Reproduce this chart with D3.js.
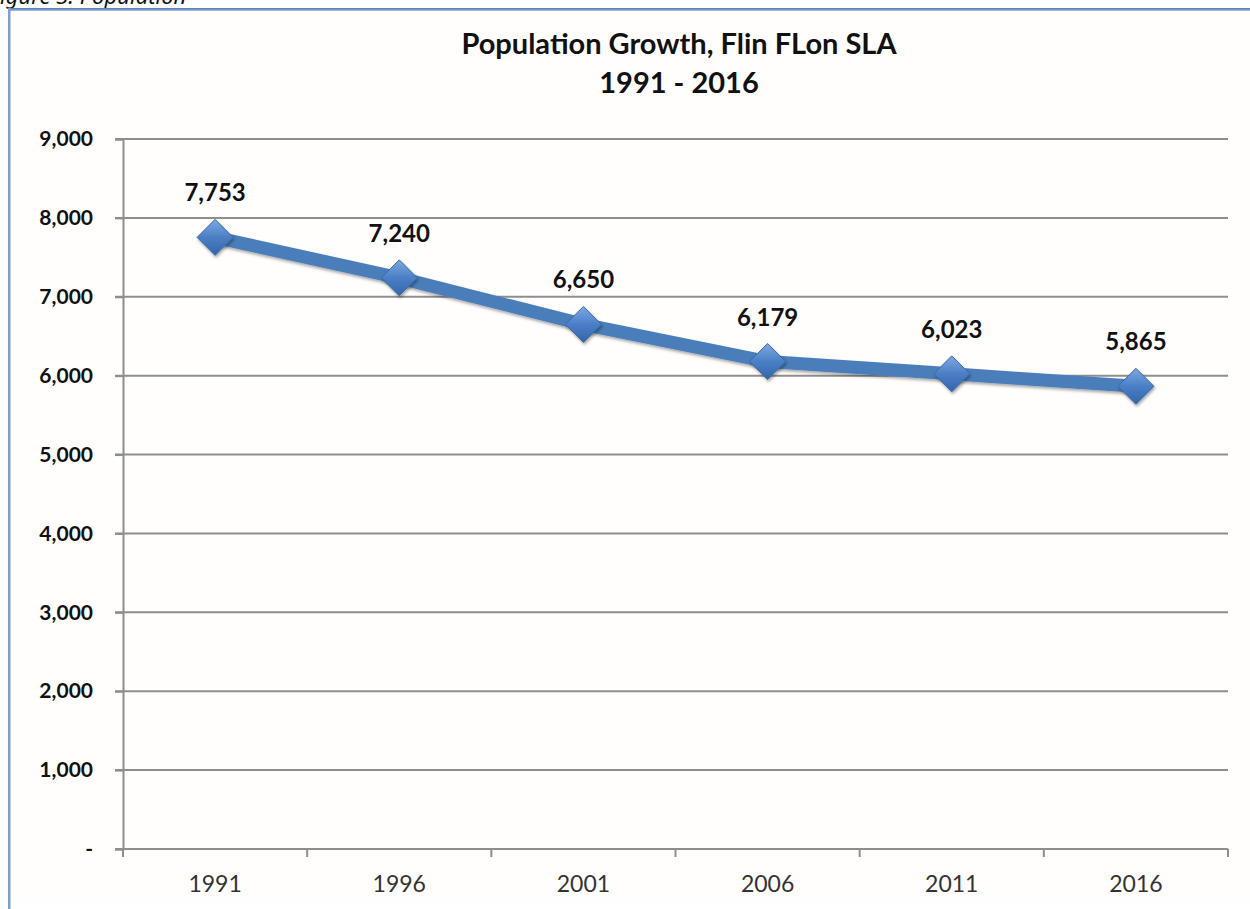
<!DOCTYPE html>
<html>
<head>
<meta charset="utf-8">
<script src="https://cdn.jsdelivr.net/npm/d3@7/dist/d3.min.js"></script>
<style>
  html, body { margin: 0; padding: 0; background: #ffffff; }
  svg { display: block; }
</style>
</head>
<body>
<svg id="chart" width="1250" height="909"></svg>
<script>
// Population of Flin Flon SLA, census years
const years = ["1991", "1996", "2001", "2006", "2011", "2016"];
const population = [7753, 7240, 6650, 6179, 6023, 5865];
const yTicks = [0, 1000, 2000, 3000, 4000, 5000, 6000, 7000, 8000, 9000];
const titleLines = ["Population Growth, Flin FLon SLA", "1991 - 2016"];

const FONT = "Lato, 'Open Sans', sans-serif";
const svg = d3.select("#chart");
const W = 1250, H = 909;
const m = { left: 123, right: 1228, top: 139, bottom: 849 };

const defs = svg.append("defs");
const frameGrad = defs.append("linearGradient").attr("id", "frameGrad")
  .attr("x1", 0).attr("y1", 0).attr("x2", 0).attr("y2", 1);
frameGrad.append("stop").attr("offset", "0%").attr("stop-color", "#4a74b0");
frameGrad.append("stop").attr("offset", "100%").attr("stop-color", "#a9c3e6");

const diaGrad = defs.append("linearGradient").attr("id", "diaGrad")
  .attr("x1", 0).attr("y1", 0).attr("x2", 0).attr("y2", 1);
diaGrad.append("stop").attr("offset", "0%").attr("stop-color", "#7fa9e0");
diaGrad.append("stop").attr("offset", "50%").attr("stop-color", "#4a7fc6");
diaGrad.append("stop").attr("offset", "100%").attr("stop-color", "#3465a8");

const shadow = defs.append("filter").attr("id", "shadow")
  .attr("x", "-20%").attr("y", "-20%").attr("width", "140%").attr("height", "140%");
shadow.append("feDropShadow").attr("dx", 1).attr("dy", 2).attr("stdDeviation", 1.5)
  .attr("flood-color", "#000").attr("flood-opacity", 0.35);

// Caption line above the chart frame, running off the top of the page
svg.append("text")
  .attr("x", 0).attr("y", 4)
  .attr("font-family", "'Noto Sans', sans-serif")
  .attr("font-style", "italic")
  .attr("font-size", 22)
  .attr("fill", "#111")
  .text("igure 3: Population");

// Chart frame
svg.append("rect")
  .attr("x", 8).attr("y", 8).attr("width", W).attr("height", H - 12)
  .attr("fill", "#fffefd").attr("stroke", "none");
svg.append("rect").attr("x", 8).attr("y", 8).attr("width", W - 8).attr("height", 3)
  .attr("fill", "url(#frameGrad)");
svg.append("rect").attr("x", 8).attr("y", 8).attr("width", 2.5).attr("height", H - 8)
  .attr("fill", "#7b9fd1");

const x = d3.scaleBand().domain(years).range([m.left, m.right]);
const y = d3.scaleLinear().domain([0, 9000]).range([m.bottom, m.top]);

// Title
const title = svg.append("text")
  .attr("text-anchor", "middle")
  .attr("font-family", FONT)
  .attr("font-weight", "bold")
  .attr("font-size", 29)
  .attr("fill", "#111");
titleLines.forEach((t, i) => {
  title.append("tspan").attr("x", 679).attr("y", 54 + i * 39).text(t);
});

// Horizontal gridlines
svg.append("g")
  .selectAll("line")
  .data(yTicks.filter(d => d > 0))
  .join("line")
  .attr("x1", m.left - 8).attr("x2", m.right)
  .attr("y1", d => y(d)).attr("y2", d => y(d))
  .attr("stroke", "#8e8e8e").attr("stroke-width", 2);

// Y axis
const yAxis = svg.append("g")
  .attr("transform", `translate(${m.left},0)`)
  .call(d3.axisLeft(y).tickValues(yTicks).tickSize(8)
    .tickFormat(d => d === 0 ? "-" : d3.format(",")(d)));
yAxis.select(".domain").attr("stroke", "#8e8e8e").attr("stroke-width", 2);
yAxis.selectAll(".tick line").attr("stroke", "#8e8e8e").attr("stroke-width", 2);
yAxis.selectAll(".tick text")
  .attr("x", -30)
  .attr("font-family", FONT)
  .attr("font-weight", "bold")
  .attr("font-size", 21)
  .attr("fill", "#111");

// X axis with ticks on the category boundaries
const xAxisG = svg.append("g");
xAxisG.append("line")
  .attr("x1", m.left - 8).attr("x2", m.right)
  .attr("y1", m.bottom).attr("y2", m.bottom)
  .attr("stroke", "#8e8e8e").attr("stroke-width", 2);
const bounds = years.map(d => x(d)).concat([x(years[years.length - 1]) + x.bandwidth()]);
xAxisG.selectAll("line.tick")
  .data(bounds)
  .join("line")
  .attr("class", "tick")
  .attr("x1", d => d).attr("x2", d => d)
  .attr("y1", m.bottom).attr("y2", m.bottom + 8)
  .attr("stroke", "#8e8e8e").attr("stroke-width", 2);
xAxisG.selectAll("text")
  .data(years)
  .join("text")
  .attr("x", d => x(d) + x.bandwidth() / 2)
  .attr("y", m.bottom + 43)
  .attr("text-anchor", "middle")
  .attr("font-family", FONT)
  .attr("font-size", 23)
  .attr("fill", "#333")
  .text(d => d);

const pts = years.map((yr, i) => ({ yr, v: population[i] }));
const cx = d => x(d.yr) + x.bandwidth() / 2;

// Series line
svg.append("path")
  .datum(pts)
  .attr("d", d3.line().x(cx).y(d => y(d.v)))
  .attr("fill", "none")
  .attr("stroke", "#4a7ebb")
  .attr("stroke-width", 13)
  .attr("stroke-linejoin", "round")
  .attr("filter", "url(#shadow)");

// Diamond markers
const s = 18;
svg.append("g")
  .selectAll("path")
  .data(pts)
  .join("path")
  .attr("transform", d => `translate(${cx(d)},${y(d.v)})`)
  .attr("d", `M0,${-s} L${s},0 L0,${s} L${-s},0 Z`)
  .attr("fill", "url(#diaGrad)")
  .attr("stroke", "#3a6aa8")
  .attr("stroke-width", 1)
  .attr("filter", "url(#shadow)");

// Value labels
svg.append("g")
  .selectAll("text")
  .data(pts)
  .join("text")
  .attr("x", cx)
  .attr("y", d => y(d.v) - 36)
  .attr("text-anchor", "middle")
  .attr("font-family", FONT)
  .attr("font-weight", "bold")
  .attr("font-size", 24)
  .attr("fill", "#111")
  .text(d => d3.format(",")(d.v));
</script>
</body>
</html>
